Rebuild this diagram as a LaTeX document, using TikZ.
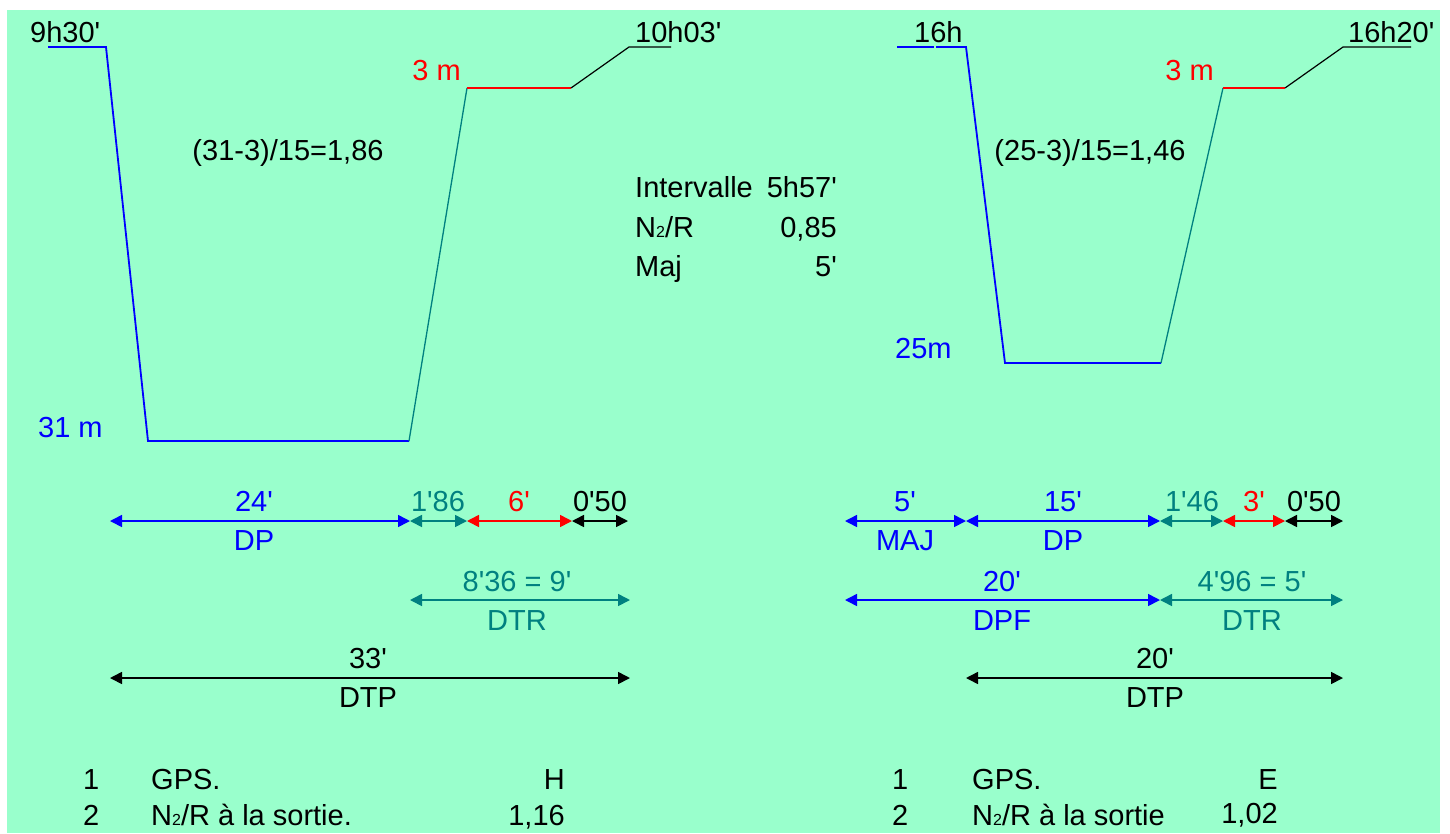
\documentclass[tikz,border=0pt]{standalone}
\usepackage{fontspec}
\setmainfont{Liberation Sans}[Ligatures=TeXOff]
\usetikzlibrary{arrows.meta}
\definecolor{bgreen}{RGB}{153,255,204}
\definecolor{tealc}{RGB}{0,128,128}
\definecolor{blueC}{RGB}{0,0,255}
\definecolor{redC}{RGB}{255,0,0}
\newcommand{\Ntwo}{N\raisebox{-0.5pt}{\fontsize{16}{16}\selectfont 2}/R}
\begin{document}
\begin{tikzpicture}[x=1pt,y=-1pt,
  lbl/.style={font=\fontsize{29}{34}\selectfont, inner sep=0pt},
  dim/.style={line width=1.6pt, {Triangle[length=12pt,width=12pt]}-{Triangle[length=12pt,width=12pt]}},
  prof/.style={line width=1.8pt},
  lead/.style={line width=1.2pt, black}]
\useasboundingbox (0,0) rectangle (1450,833);
\fill[bgreen] (7,10) rectangle (1440,833);

% ---------- left profile ----------
\coordinate (LA) at (48,47);
\coordinate (LB) at (106,47);
\coordinate (LC) at (148,441);
\coordinate (LD) at (409,441);
\coordinate (LE) at (467,88);
\coordinate (LF) at (571,88);
\coordinate (LG) at (629,47);
\coordinate (LH) at (671,47);
\draw[prof, blueC] (LA) -- (LB) -- (LC) -- (LD);
\draw[line width=1.3pt, tealc] (LD) -- (LE);
\draw[line width=2.4pt, redC] (LE) -- (LF);
\draw[lead] (LF) -- (LG) -- (LH);

\node[lbl, anchor=base west] (t1) at (30,42) {9h30'};
\node[lbl, anchor=base west] (t2) at (635,42) {10h03'};
\node[lbl, anchor=base east, text=redC] (p1) at (461,80) {3 m};
\node[lbl, anchor=base] (f1) at (288,160) {(31-3)/15=1,86};
\node[lbl, anchor=base west, text=blueC] (d1) at (38,437) {31 m};

% ---------- right profile ----------
\coordinate (RA) at (897,47);
\coordinate (RA2) at (934,47);
\coordinate (RA3) at (936,47);
\coordinate (RB) at (966,47);
\coordinate (RC) at (1005,363);
\coordinate (RD) at (1161,363);
\coordinate (RE) at (1223,88);
\coordinate (RF) at (1285,88);
\coordinate (RG) at (1343,47);
\coordinate (RH) at (1411,47);
\draw[prof, blueC] (RA) -- (RA2);
\draw[prof, blueC] (RA3) -- (RB) -- (RC) -- (RD);
\draw[line width=1.3pt, tealc] (RD) -- (RE);
\draw[line width=2.4pt, redC] (RE) -- (RF);
\draw[lead] (RF) -- (RG) -- (RH);

\node[lbl, anchor=base west] (t3) at (914,42) {16h};
\node[lbl, anchor=base west] (t4) at (1348,42) {16h20'};
\node[lbl, anchor=base east, text=redC] (p2) at (1214,80) {3 m};
\node[lbl, anchor=base] (f2) at (1090,160) {(25-3)/15=1,46};
\node[lbl, anchor=base west, text=blueC] (d2) at (895,358) {25m};

% ---------- middle block ----------
\node[lbl, anchor=base west] (i1) at (635,197) {Intervalle};
\node[lbl, anchor=base east] (i2) at (837,197) {5h57'};
\node[lbl, anchor=base west] (n1) at (635,237) {\Ntwo};
\node[lbl, anchor=base east] (n2) at (837,237) {0,85};
\node[lbl, anchor=base west] (m1) at (635,276) {Maj};
\node[lbl, anchor=base east] (m2) at (837,276) {5'};

% ---------- left dimension arrows ----------
\coordinate (a0) at (110,521);
\coordinate (a1) at (410,521);
\coordinate (a2) at (467,521);
\coordinate (a3) at (572,521);
\coordinate (a4) at (628,521);
\draw[dim, blueC] (a0) -- (a1);
\draw[dim, tealc] (a1) -- (a2);
\draw[dim, redC] (a2) -- (a3);
\draw[dim, black] (a3) -- (a4);
\node[lbl, anchor=base, text=blueC] (la1) at (254,511) {24'};
\node[lbl, anchor=base, text=blueC] (lb1) at (254,550) {DP};
\node[lbl, anchor=base, text=tealc] (la2) at (438,511) {1'86};
\node[lbl, anchor=base, text=redC] (la3) at (519,511) {6'};
\node[lbl, anchor=base] (la4) at (600,511) {0'50};

\coordinate (b0) at (410,600);
\coordinate (b1) at (630,600);
\draw[dim, tealc] (b0) -- (b1);
\node[lbl, anchor=base, text=tealc] (lc1) at (517,591) {8'36 = 9'};
\node[lbl, anchor=base, text=tealc] (lc2) at (517,630) {DTR};

\coordinate (c0) at (110,678);
\coordinate (c1) at (630,678);
\draw[dim, black] (c0) -- (c1);
\node[lbl, anchor=base] (ld1) at (368,668) {33'};
\node[lbl, anchor=base] (ld2) at (368,707) {DTP};

% ---------- right dimension arrows ----------
\coordinate (e0) at (845,521);
\coordinate (e1) at (966,521);
\coordinate (e2) at (1160,521);
\coordinate (e3) at (1223,521);
\coordinate (e4) at (1285,521);
\coordinate (e5) at (1343,521);
\draw[dim, blueC] (e0) -- (e1);
\draw[dim, blueC] (e1) -- (e2);
\draw[dim, tealc] (e2) -- (e3);
\draw[dim, redC] (e3) -- (e4);
\draw[dim, black] (e4) -- (e5);
\node[lbl, anchor=base, text=blueC] (ra1) at (905,511) {5'};
\node[lbl, anchor=base, text=blueC] (rb1) at (905,550) {MAJ};
\node[lbl, anchor=base, text=blueC] (ra2) at (1063,511) {15'};
\node[lbl, anchor=base, text=blueC] (rb2) at (1063,550) {DP};
\node[lbl, anchor=base, text=tealc] (ra3) at (1192,511) {1'46};
\node[lbl, anchor=base, text=redC] (ra4) at (1254,511) {3'};
\node[lbl, anchor=base] (ra5) at (1314,511) {0'50};

\coordinate (g0) at (845,600);
\coordinate (g1) at (1160,600);
\coordinate (g2) at (1343,600);
\draw[dim, blueC] (g0) -- (g1);
\draw[dim, tealc] (g1) -- (g2);
\node[lbl, anchor=base, text=blueC] (rc1) at (1002,591) {20'};
\node[lbl, anchor=base, text=blueC] (rc2) at (1002,630) {DPF};
\node[lbl, anchor=base, text=tealc] (rc3) at (1252,591) {4'96 = 5'};
\node[lbl, anchor=base, text=tealc] (rc4) at (1252,630) {DTR};

\coordinate (h0) at (966,678);
\coordinate (h1) at (1343,678);
\draw[dim, black] (h0) -- (h1);
\node[lbl, anchor=base] (rd1) at (1155,668) {20'};
\node[lbl, anchor=base] (rd2) at (1155,707) {DTP};

% ---------- bottom notes ----------
\node[lbl, anchor=base west] (bl1) at (83,789) {1};
\node[lbl, anchor=base west] (bl2) at (151,789) {GPS.};
\node[lbl, anchor=base east] (bl3) at (565,789) {H};
\node[lbl, anchor=base west] (bl4) at (83,825) {2};
\node[lbl, anchor=base west] (bl5) at (151,825) {\Ntwo{} à la sortie.};
\node[lbl, anchor=base east] (bl6) at (565,825) {1,16};

\node[lbl, anchor=base west] (br1) at (892,789) {1};
\node[lbl, anchor=base west] (br2) at (972,789) {GPS.};
\node[lbl, anchor=base east] (br3) at (1278,789) {E};
\node[lbl, anchor=base west] (br4) at (892,825) {2};
\node[lbl, anchor=base west] (br5) at (972,825) {\Ntwo{} à la sortie};
\node[lbl, anchor=base east] (br6) at (1278,823) {1,02};
\end{tikzpicture}
\end{document}
